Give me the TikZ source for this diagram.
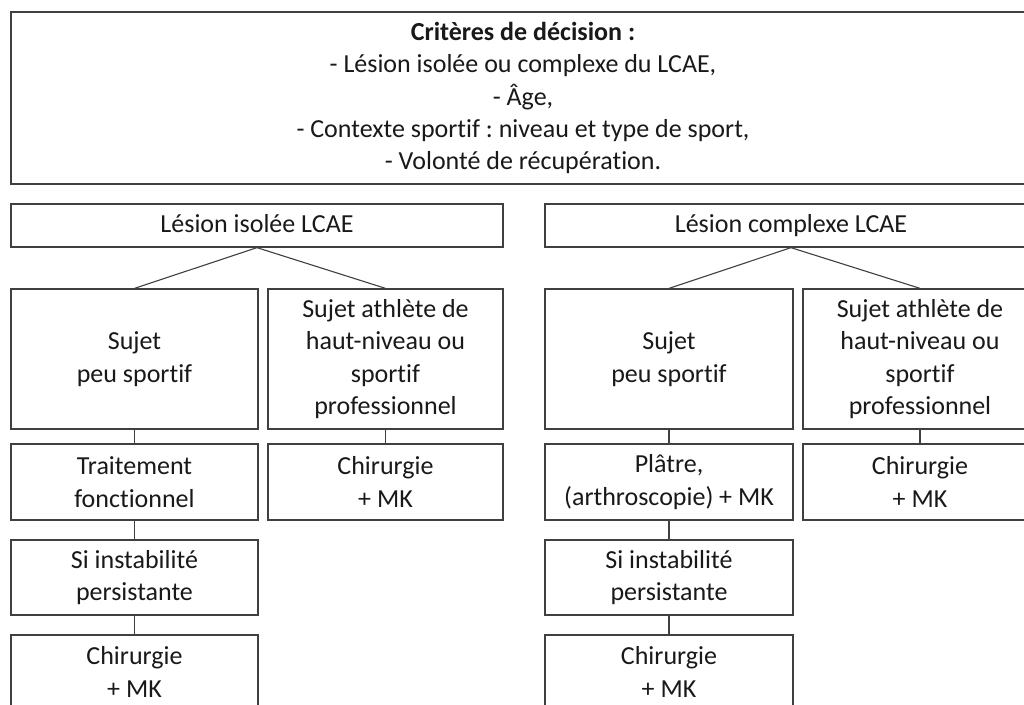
\documentclass[tikz,border=0pt]{standalone}
\usepackage{fontspec}
\setmainfont{Carlito}[Ligatures=NoCommon]
\frenchspacing
\begin{document}
\begin{tikzpicture}[x=1pt,y=-1pt,
  box/.style={draw=black!75, line width=1.3pt, align=center, inner sep=0pt,
    font=\fontsize{26}{32.3}\selectfont, text=black!90},
  link/.style={draw=black!75, line width=1.1pt}]
\useasboundingbox (0,0) rectangle (1024,704);
\fill[white] (0,0) rectangle (1024,704);

% decision criteria
\node[box, minimum width=1024pt, minimum height=172pt] (crit) at (523,98)
  {\textbf{Critères de décision :}\\
   - Lésion isolée ou complexe du LCAE,\\
   - Âge,\\
   - Contexte sportif : niveau et type de sport,\\
   - Volonté de récupération.};

% two lesion types
\node[box, minimum width=492pt, minimum height=43pt] (iso) at (257,225.5) {Lésion isolée LCAE\vphantom{p}};
\node[box, minimum width=492pt, minimum height=43pt] (cpx) at (791,225.5) {Lésion complexe LCAE\vphantom{p}};

% patient profiles
\node[box, minimum width=247pt, minimum height=140pt] (isoA) at (134.5,359) {Sujet\\peu sportif};
\node[box, minimum width=235pt, minimum height=140pt] (isoB) at (385.5,359) {Sujet athlète de\\haut-niveau ou\\sportif\\professionnel};
\node[box, minimum width=248pt, minimum height=140pt] (cpxA) at (669,359) {Sujet\\peu sportif};
\node[box, minimum width=234pt, minimum height=140pt] (cpxB) at (920,359) {Sujet athlète de\\haut-niveau ou\\sportif\\professionnel};

% first-line treatment
\node[box, minimum width=247pt, minimum height=76pt] (isoA3) at (134.5,482) {Traitement\\fonctionnel};
\node[box, minimum width=235pt, minimum height=76pt] (isoB3) at (385.5,482) {Chirurgie\\+ MK};
\node[box, minimum width=248pt, minimum height=76pt] (cpxA3) at (669,482) {Plâtre,\\(arthroscopie) + MK};
\node[box, minimum width=234pt, minimum height=76pt] (cpxB3) at (920,482) {Chirurgie\\+ MK};

% persistent instability
\node[box, minimum width=247pt, minimum height=75pt] (isoA4) at (134.5,577.5) {Si instabilité\\persistante};
\node[box, minimum width=248pt, minimum height=75pt] (cpxA4) at (669,577.5) {Si instabilité\\persistante};

% secondary surgery
\node[box, minimum width=247pt, minimum height=74pt] (isoA5) at (134.5,672) {Chirurgie\\+ MK};
\node[box, minimum width=248pt, minimum height=74pt] (cpxA5) at (669,672) {Chirurgie\\+ MK};

% connectors
\draw[link] (iso.south) -- (isoA.north);
\draw[link] (iso.south) -- (isoB.north);
\draw[link] (cpx.south) -- (cpxA.north);
\draw[link] (cpx.south) -- (cpxB.north);
\draw[link] (isoA.south) -- (isoA3.north);
\draw[link] (isoB.south) -- (isoB3.north);
\draw[link] (cpxA.south) -- (cpxA3.north);
\draw[link] (cpxB.south) -- (cpxB3.north);
\draw[link] (isoA3.south) -- (isoA4.north);
\draw[link] (cpxA3.south) -- (cpxA4.north);
\draw[link] (isoA4.south) -- (isoA5.north);
\draw[link] (cpxA4.south) -- (cpxA5.north);
\end{tikzpicture}
\end{document}
